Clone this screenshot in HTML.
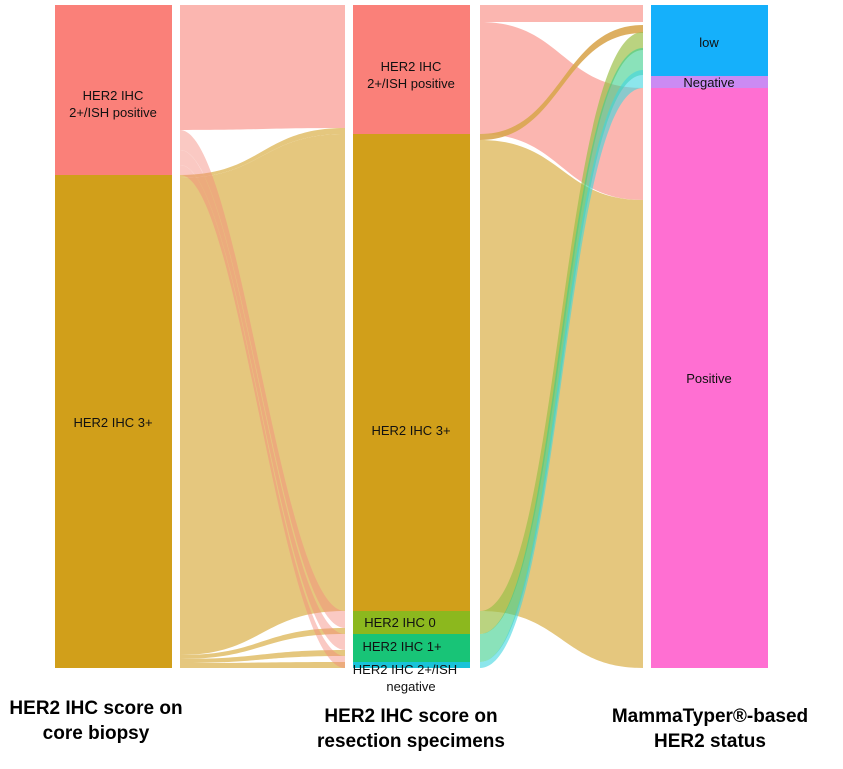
<!DOCTYPE html>
<html><head><style>body{margin:0;background:#fff}svg{display:block}</style></head><body>
<svg width="843" height="769" xmlns="http://www.w3.org/2000/svg" font-family="Liberation Sans, sans-serif">
<g>
<path d="M180 5 L345 5 L345 128 C262 128 262 130 180 130 Z" fill="#fbb6b0"/>
<path d="M180 175 C262 175 262 128 345 128 L345 134 C262 134 262 178 180 178 Z" fill="#e5c77e"/>
<path d="M180 178 C262 178 262 134 345 134 L345 611 C262 611 262 655 180 655 Z" fill="#e5c77e"/>
<path d="M180 655 C262 655 262 628 345 628 L345 634 C262 634 262 659 180 659 Z" fill="#e5c77e"/>
<path d="M180 659 C262 659 262 650 345 650 L345 656 C262 656 262 663 180 663 Z" fill="#e5c77e"/>
<path d="M180 663 C262 663 262 662 345 662 L345 668 C262 668 262 668 180 668 Z" fill="#e5c77e"/>
<g fill="#f58a7c" opacity="0.45">
<path d="M180 130 C240 130 280 611 345 611 L345 628 C280 628 240 150 180 150 Z"/>
<path d="M180 150 C240 150 280 634 345 634 L345 650 C280 650 240 165 180 165 Z"/>
<path d="M180 165 C240 165 280 656 345 656 L345 668 C280 668 240 175 180 175 Z"/>
</g>
</g>
<g>
<path d="M480 5 L643 5 L643 22 L480 22 Z" fill="#fbb6b0"/>
<path d="M480 22 C562 22 562 88 643 88 L643 200 C562 200 562 134 480 134 Z" fill="#fbb6b0"/>
<path d="M480 140 C562 140 562 200 643 200 L643 668 C562 668 562 611 480 611 Z" fill="#e5c77e"/>
<path d="M480 134 C562 134 562 25 643 25 L643 33 C562 33 562 140 480 140 Z" fill="#d9a650" opacity="0.9"/>
<path d="M480 611 C560 611 560 32 643 32 L643 50 C562 50 562 634 480 634 Z" fill="#9cc04a" opacity="0.7"/>
<path d="M480 634 C560 634 560 48 643 48 L643 75 C562 75 562 662 480 662 Z" fill="#3ccf8c" opacity="0.6"/>
<path d="M480 662 C560 662 560 70 643 70 L643 88 C562 88 562 668 480 668 Z" fill="#3fd6e0" opacity="0.6"/>
</g>
<rect x="55" y="5" width="117" height="170" fill="#fa8079"/>
<rect x="55" y="175" width="117" height="493" fill="#d19f1a"/>
<rect x="353" y="5" width="117" height="129" fill="#fa8079"/>
<rect x="353" y="134" width="117" height="477" fill="#d19f1a"/>
<rect x="353" y="611" width="117" height="23" fill="#8cb81e"/>
<rect x="353" y="634" width="117" height="28" fill="#18c477"/>
<rect x="353" y="662" width="117" height="6" fill="#19c3d8"/>
<rect x="651" y="5" width="117" height="71" fill="#15b0fb"/>
<rect x="651" y="76" width="117" height="12" fill="#cb8bf3"/>
<rect x="651" y="88" width="117" height="580" fill="#ff6fd2"/>
<g font-size="13" fill="#111" text-anchor="middle">
<text x="113" y="100">HER2 IHC</text><text x="113" y="117">2+/ISH positive</text>
<text x="113" y="427">HER2 IHC 3+</text>
<text x="411" y="71">HER2 IHC</text><text x="411" y="88">2+/ISH positive</text>
<text x="411" y="435">HER2 IHC 3+</text>
<text x="400" y="627">HER2 IHC 0</text>
<text x="402" y="651">HER2 IHC 1+</text>
<text x="405" y="674">HER2 IHC 2+/ISH</text>
<text x="411" y="691">negative</text>
<text x="709" y="47">low</text>
<text x="709" y="87">Negative</text>
<text x="709" y="383">Positive</text>
</g>
<g font-size="19" font-weight="bold" fill="#000" text-anchor="middle">
<text x="96" y="714">HER2 IHC score on</text><text x="96" y="739">core biopsy</text>
<text x="411" y="722">HER2 IHC score on</text><text x="411" y="747">resection specimens</text>
<text x="710" y="722">MammaTyper®-based</text><text x="710" y="747">HER2 status</text>
</g>
</svg>
</body></html>
